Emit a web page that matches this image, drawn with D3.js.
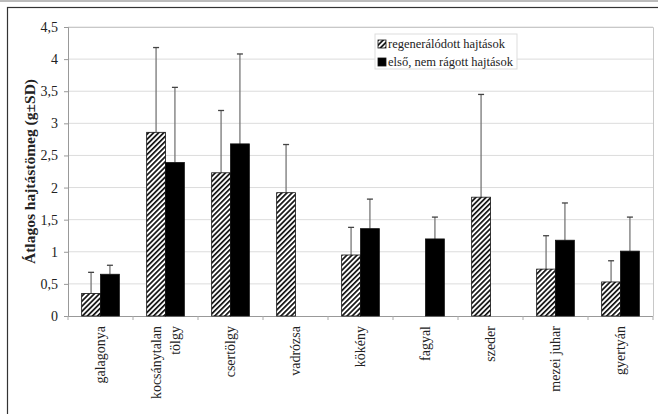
<!DOCTYPE html>
<html>
<head>
<meta charset="utf-8">
<script src="https://cdn.jsdelivr.net/npm/d3@7"></script>
<style>
  body { margin: 0; background: #fff; }
  svg, svg text { font-family: "Liberation Serif", "Times New Roman", serif !important; }
</style>
</head>
<body>
<div id="chart"></div>
<script>
// Data
const categories = ["galagonya", "kocsánytalan tölgy", "csertölgy", "vadrózsa", "kökény", "fagyal", "szeder", "mezei juhar", "gyertyán"];
const categoryLines = [["galagonya"], ["kocsánytalan", "tölgy"], ["csertölgy"], ["vadrózsa"], ["kökény"], ["fagyal"], ["szeder"], ["mezei juhar"], ["gyertyán"]];
const seriesNames = ["regenerálódott hajtások", "első, nem rágott hajtások"];
const regen = [0.35, 2.86, 2.23, 1.92, 0.95, 0, 1.85, 0.73, 0.53];
const regenSD = [0.33, 1.32, 0.97, 0.75, 0.43, 0, 1.6, 0.52, 0.33];
const elso = [0.65, 2.39, 2.68, 0, 1.36, 1.2, 0, 1.18, 1.01];
const elsoSD = [0.14, 1.17, 1.4, 0, 0.46, 0.34, 0, 0.58, 0.53];
const yTicks = [0, 0.5, 1, 1.5, 2, 2.5, 3, 3.5, 4, 4.5];

const svgWidth = 658, svgHeight = 414;
const margin = { left: 68, top: 27, right: 5, bottom: 98 };
const plotRight = svgWidth - margin.right;
const plotBottom = svgHeight - margin.bottom;

const svg = d3.select("#chart")
    .append("svg")
    .attr("width", svgWidth)
    .attr("height", svgHeight);

// hatch pattern
const defs = svg.append("defs");
const pat = defs.append("pattern")
    .attr("id", "hatch")
    .attr("patternUnits", "userSpaceOnUse")
    .attr("width", 3.6)
    .attr("height", 3.6)
    .attr("patternTransform", "rotate(45)");
pat.append("rect").attr("width", 3.6).attr("height", 3.6).attr("fill", "#fff");
pat.append("rect").attr("x", 0).attr("width", 1.7).attr("height", 3.6).attr("fill", "#111");

// outer frame
svg.append("line").attr("x1", 0).attr("x2", svgWidth).attr("y1", 1).attr("y2", 1)
    .attr("stroke", "#bbb").attr("stroke-width", 2);
svg.append("rect").attr("x", 7.5).attr("y", 7.5)
    .attr("width", svgWidth + 10).attr("height", svgHeight + 10)
    .attr("fill", "none").attr("stroke", "#333").attr("stroke-width", 1.2);

// scales
const x0 = d3.scaleBand()
    .domain(categories)
    .range([margin.left, plotRight])
    .paddingInner(0.42)
    .paddingOuter(0.21);

const x1 = d3.scaleBand()
    .domain([0, 1])
    .range([0, x0.bandwidth()]);

const y = d3.scaleLinear()
    .domain([0, 4.5])
    .range([plotBottom, margin.top]);

const fmt = d => String(d).replace(".", ",");

// gridlines
svg.append("g")
    .selectAll("line")
    .data(yTicks.slice(1))
    .enter().append("line")
    .attr("x1", margin.left).attr("x2", plotRight)
    .attr("y1", d => y(d)).attr("y2", d => y(d))
    .attr("stroke", "#dcdcdc").attr("stroke-width", 1);

// plot area border (top & right)
svg.append("path")
    .attr("d", `M${margin.left},${margin.top + 0.5}H${plotRight + 0.5}V${plotBottom}`)
    .attr("fill", "none").attr("stroke", "#c8c8c8");

// y axis
const yAxis = svg.append("g")
    .attr("transform", `translate(${margin.left}, 0)`)
    .call(d3.axisLeft(y).tickValues(yTicks).tickFormat(fmt).tickSize(4).tickPadding(6));
yAxis.attr("font-family", null).attr("font-size", 14);
yAxis.select(".domain").attr("stroke", "#999");
yAxis.selectAll(".tick line").attr("stroke", "#999");
yAxis.selectAll("text").attr("fill", "#222");

// x axis: ticks at category boundaries
const bounds = d3.range(categories.length + 1).map(i => margin.left + i * x0.step());
svg.append("line")
    .attr("x1", margin.left).attr("x2", plotRight)
    .attr("y1", plotBottom + 0.5).attr("y2", plotBottom + 0.5)
    .attr("stroke", "#999");
svg.append("g").selectAll("line")
    .data(bounds)
    .enter().append("line")
    .attr("x1", d => d).attr("x2", d => d)
    .attr("y1", plotBottom).attr("y2", plotBottom + 4)
    .attr("stroke", "#aaa");

// x labels
const xl = svg.append("g").selectAll("text")
    .data(categories)
    .enter().append("text")
    .attr("transform", d => `translate(${x0(d) + x0.bandwidth() / 2}, ${plotBottom + 10}) rotate(-90)`)
    .attr("text-anchor", "end")
    .attr("font-size", 14)
    .attr("fill", "#222");
xl.each(function (d, i) {
    const lines = categoryLines[i];
    const n = lines.length;
    lines.forEach((t, j) => {
        d3.select(this).append("tspan")
            .attr("x", 0)
            .attr("y", (j - (n - 1) / 2) * 19)
            .attr("dy", "0.35em")
            .text(t);
    });
});

// bars
const series = [
    { vals: regen, sd: regenSD, fill: "url(#hatch)" },
    { vals: elso, sd: elsoSD, fill: "#000" }
];

series.forEach((s, k) => {
    const g = svg.append("g");
    const withSD = categories.filter((c, i) => s.sd[i] > 0);
    const cx = c => x0(c) + x1(k) + x1.bandwidth() / 2;
    const top = c => { const i = categories.indexOf(c); return y(s.vals[i] + s.sd[i]); };
    // error bars (upper only)
    g.selectAll("line.err")
        .data(withSD)
        .enter().append("line")
        .attr("class", "err")
        .attr("x1", cx).attr("x2", cx)
        .attr("y1", c => y(s.vals[categories.indexOf(c)]))
        .attr("y2", top)
        .attr("stroke", "#777").attr("stroke-width", 1.3);
    g.selectAll("line.cap")
        .data(withSD)
        .enter().append("line")
        .attr("class", "cap")
        .attr("x1", c => cx(c) - 3)
        .attr("x2", c => cx(c) + 3)
        .attr("y1", top).attr("y2", top)
        .attr("stroke", "#444").attr("stroke-width", 1.3);
    g.selectAll("rect")
        .data(categories)
        .enter().append("rect")
        .attr("x", c => x0(c) + x1(k))
        .attr("y", (c, i) => y(s.vals[i]))
        .attr("width", x1.bandwidth())
        .attr("height", (c, i) => y(0) - y(s.vals[i]))
        .attr("fill", s.fill)
        .attr("stroke", "#111")
        .attr("stroke-width", 0.8);
});

// y axis label
svg.append("text")
    .attr("transform", `translate(35, ${(margin.top + plotBottom) / 2}) rotate(-90)`)
    .attr("text-anchor", "middle")
    .attr("font-size", 15.5)
    .attr("font-weight", "bold")
    .attr("fill", "#222")
    .text("Átlagos hajtástömeg (g±SD)");

// legend
const lg = svg.append("g").attr("transform", "translate(375, 34)");
lg.append("rect")
    .attr("width", 142).attr("height", 35)
    .attr("fill", "#fff").attr("stroke", "#ddd");
const item = lg.selectAll("g")
    .data(seriesNames)
    .enter().append("g")
    .attr("transform", (d, i) => `translate(3, ${10 + i * 18})`);
item.append("rect")
    .attr("x", 0).attr("y", -4)
    .attr("width", 8).attr("height", 8)
    .attr("fill", (d, i) => series[i].fill)
    .attr("stroke", "#111").attr("stroke-width", 0.8);
item.append("text")
    .attr("x", 10)
    .attr("dy", "0.35em")
    .attr("font-size", 12.5)
    .attr("fill", "#222")
    .text(d => d);
</script>
</body>
</html>
